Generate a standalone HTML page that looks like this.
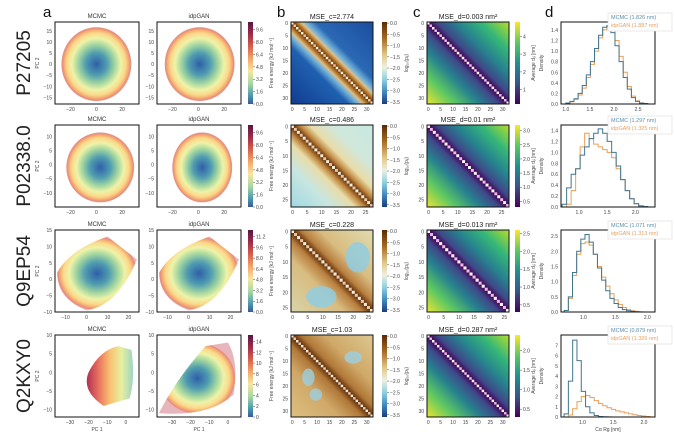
<!DOCTYPE html>
<html><head><meta charset="utf-8">
<style>
html,body{margin:0;padding:0;background:#fff;}
svg{display:block;font-family:"Liberation Sans",sans-serif;}
</style></head>
<body>
<svg id="fig" width="675" height="437" viewBox="0 0 675 437" xmlns="http://www.w3.org/2000/svg">
<defs>
<radialGradient id="spec" cx="0.5" cy="0.5" r="0.5">
<stop offset="0" stop-color="#2f5fa8"/><stop offset="0.3" stop-color="#4f9cb0"/><stop offset="0.52" stop-color="#9fd4a0"/><stop offset="0.7" stop-color="#eef3a8"/><stop offset="0.84" stop-color="#fbd88a"/><stop offset="0.93" stop-color="#f4a870"/><stop offset="0.98" stop-color="#e07060" stop-opacity="0.8"/><stop offset="1" stop-color="#c04858" stop-opacity="0.4"/>
</radialGradient>
<linearGradient id="specL" x1="1" y1="0" x2="0" y2="0">
<stop offset="0" stop-color="#9fd4c0"/><stop offset="0.25" stop-color="#e6f0a0"/><stop offset="0.5" stop-color="#f8c070"/><stop offset="0.75" stop-color="#e87060"/><stop offset="1" stop-color="#b03050"/>
</linearGradient>
<linearGradient id="cbA" x1="0" y1="0" x2="0" y2="1">
<stop offset="0" stop-color="#5a1448"/><stop offset="0.15" stop-color="#a02c48"/><stop offset="0.3" stop-color="#d8604a"/><stop offset="0.45" stop-color="#f4a868"/><stop offset="0.6" stop-color="#f6e6a0"/><stop offset="0.75" stop-color="#a8d8a0"/><stop offset="0.9" stop-color="#4a98b0"/><stop offset="1" stop-color="#3a5a98"/>
</linearGradient>
<linearGradient id="cbB" x1="0" y1="0" x2="0" y2="1">
<stop offset="0" stop-color="#5a2a05"/><stop offset="0.2" stop-color="#a86a20"/><stop offset="0.4" stop-color="#e0c888"/><stop offset="0.55" stop-color="#eef0e0"/><stop offset="0.7" stop-color="#90d0e0"/><stop offset="0.85" stop-color="#3f8cc0"/><stop offset="1" stop-color="#1a3c80"/>
</linearGradient>
<linearGradient id="cbC" x1="0" y1="1" x2="0" y2="0">
<stop offset="0" stop-color="#440154"/><stop offset="0.25" stop-color="#3b528b"/><stop offset="0.5" stop-color="#21908d"/><stop offset="0.75" stop-color="#5dc863"/><stop offset="1" stop-color="#fde725"/>
</linearGradient>
<linearGradient id="vir" x1="0.5" y1="0.5" x2="1" y2="0">
<stop offset="0" stop-color="#440154"/><stop offset="0.12" stop-color="#3e4a89"/><stop offset="0.35" stop-color="#26828e"/><stop offset="0.65" stop-color="#35b779"/><stop offset="1" stop-color="#b5de2b"/>
</linearGradient>
<linearGradient id="virL" x1="0.5" y1="0.5" x2="0" y2="1">
<stop offset="0" stop-color="#440154"/><stop offset="0.12" stop-color="#3e4a89"/><stop offset="0.35" stop-color="#26828e"/><stop offset="0.65" stop-color="#5dc863"/><stop offset="1" stop-color="#e8e430"/>
</linearGradient>
<linearGradient id="b1U" x1="0.5" y1="0.5" x2="1" y2="0"><stop offset="0" stop-color="#5a2805"/><stop offset="0.06" stop-color="#b07020"/><stop offset="0.12" stop-color="#d8c090"/><stop offset="0.18" stop-color="#70b0d8"/><stop offset="0.3" stop-color="#2a68b4"/><stop offset="1" stop-color="#1a4ea0"/></linearGradient>
<linearGradient id="b1L" x1="0.5" y1="0.5" x2="0" y2="1"><stop offset="0" stop-color="#5a2805"/><stop offset="0.06" stop-color="#b07020"/><stop offset="0.12" stop-color="#d8c090"/><stop offset="0.18" stop-color="#70b0d8"/><stop offset="0.3" stop-color="#2060b0"/><stop offset="1" stop-color="#103c90"/></linearGradient>
<linearGradient id="b2U" x1="0.5" y1="0.5" x2="1" y2="0"><stop offset="0" stop-color="#5a2805"/><stop offset="0.1" stop-color="#c08840"/><stop offset="0.22" stop-color="#e8dcaa"/><stop offset="0.5" stop-color="#d0e8dc"/><stop offset="1" stop-color="#c8e8e0"/></linearGradient>
<linearGradient id="b2L" x1="0.5" y1="0.5" x2="0" y2="1"><stop offset="0" stop-color="#5a2805"/><stop offset="0.1" stop-color="#c08840"/><stop offset="0.22" stop-color="#e8dcaa"/><stop offset="0.5" stop-color="#c8e6e0"/><stop offset="1" stop-color="#a0d8e4"/></linearGradient>
<linearGradient id="b3U" x1="0.5" y1="0.5" x2="1" y2="0"><stop offset="0" stop-color="#5a2805"/><stop offset="0.12" stop-color="#b88040"/><stop offset="0.35" stop-color="#d8bc80"/><stop offset="1" stop-color="#e0dcb0"/></linearGradient>
<linearGradient id="b3L" x1="0.5" y1="0.5" x2="0" y2="1"><stop offset="0" stop-color="#5a2805"/><stop offset="0.12" stop-color="#b88040"/><stop offset="0.35" stop-color="#d8bc80"/><stop offset="1" stop-color="#d8d4a8"/></linearGradient>
<linearGradient id="b4U" x1="0.5" y1="0.5" x2="1" y2="0"><stop offset="0" stop-color="#5a2805"/><stop offset="0.12" stop-color="#b07838"/><stop offset="0.4" stop-color="#d0a868"/><stop offset="1" stop-color="#dcc890"/></linearGradient>
<linearGradient id="b4L" x1="0.5" y1="0.5" x2="0" y2="1"><stop offset="0" stop-color="#5a2805"/><stop offset="0.12" stop-color="#b07838"/><stop offset="0.4" stop-color="#d0a868"/><stop offset="1" stop-color="#dcc080"/></linearGradient>
</defs>
</svg>
<script>
// ---- data ----
const proteins = ["P27205","P02338.0","Q9EP54","Q2KXY0"];
const mseC = ["2.774","0.486","0.228","1.03"];
const mseD = ["0.003","0.01","0.013","0.287"];
const nRes = [33,28,27,33];
const heatTicks = [[0,5,10,15,20,25,30],[0,5,10,15,20,25],[0,5,10,15,20,25],[0,5,10,15,20,25,30]];
const rgMCMC = ["1.826","1.297","1.071","0.879"];
const rgGAN = ["1.887","1.325","1.313","1.326"];
const cbATicks = [[0,1.6,3.2,4.8,6.4,8.0,9.6],[0,1.6,3.2,4.8,6.4,8.0,9.6],[0,1.6,3.2,4.8,6.4,8.0,9.6,11.2],[0,2,4,6,8,10,12,14]];
const cbAMax = [10.6,10.6,12.2,15.2];
const cbBTicks = [0,-0.5,-1.0,-1.5,-2.0,-2.5,-3.0,-3.5];
const cbCTicks = [[1,2,3,4],[0.5,1.0,1.5,2.0,2.5,3.0],[0.5,1.0,1.5,2.0,2.5],[0.5,1.0,1.5,2.0]];
const cbCRange = [[0.2,4.8],[0.3,3.2],[0.3,2.6],[0.3,2.4]];
const scXR = [[-32,33],[-32,33],[-15,25],[-38,7]];
const scYR = [[-18,19],[-15,14],[-10,15],[-12,10]];
const scXT = [[-20,0,20],[-20,0,20],[-10,0,10,20],[-30,-20,-10,0]];
const scYT = [[-15,-10,-5,0,5,10,15],[-10,-5,0,5,10],[-10,-5,0,5,10,15],[-10,-5,0,5,10]];
const hXR = [[0.9,2.85],[0.68,2.35],[0.65,2.12],[0.65,2.18]];
const hYR = [[0,1.55],[0,1.5],[0,2.7],[0,8]];
const hXT = [[1.0,1.5,2.0,2.5],[1.0,1.5,2.0],[1.0,1.5,2.0],[1.0,1.5,2.0]];
const hYT = [[0,0.2,0.4,0.6,0.8,1.0,1.2,1.4],[0,0.2,0.4,0.6,0.8,1.0,1.2,1.4],[0,0.5,1.0,1.5,2.0,2.5],[0,1,2,3,4,5,6,7]];
const binStart = [1.0,0.7,0.7,0.7];
const binW = [0.085,0.08,0.065,0.07];
const histMCMC = [
 [0.02,0.05,0.1,0.2,0.35,0.55,0.8,1.05,1.3,1.45,1.48,1.35,1.1,0.8,0.5,0.28,0.12,0.05,0.02,0.01],
 [0.05,0.35,0.6,0.7,0.95,1.1,1.25,1.35,1.43,1.35,1.2,1.0,0.75,0.5,0.3,0.15,0.06,0.02,0.01,0],
 [0.05,0.5,1.3,2.0,2.4,2.55,2.3,1.9,1.45,1.05,0.7,0.45,0.28,0.15,0.08,0.04,0.02,0.01,0,0],
 [0.3,3.5,7.5,5.5,2.5,1.0,0.4,0.15,0.05,0.02,0.01,0,0,0,0,0,0,0,0,0]];
const histGAN = [
 [0.02,0.04,0.09,0.17,0.3,0.5,0.75,1.0,1.25,1.4,1.47,1.4,1.2,0.9,0.6,0.33,0.15,0.06,0.02,0.01],
 [0,0.05,0.3,0.7,1.1,1.35,1.25,1.15,1.1,1.05,1.0,0.9,0.7,0.5,0.3,0.15,0.06,0.02,0.01,0],
 [0.05,0.45,1.2,1.9,2.25,2.3,2.2,1.9,1.5,1.15,0.85,0.6,0.4,0.25,0.15,0.08,0.04,0.02,0.01,0],
 [0,0.2,0.8,1.5,2.0,2.1,1.9,1.6,1.3,1.1,0.9,0.75,0.6,0.5,0.4,0.3,0.22,0.15,0.1,0.05]];

// ---- layout ----
const NS="http://www.w3.org/2000/svg";
const svg=document.getElementById('fig');
const rowTop=[22,125,230,335], H=82;
const C={s1:55,s2:157,cbA:248,hb:291,cbB:382,hc:427,cbC:515,hd:561};
function mk(tag,at,parent){const e=document.createElementNS(NS,tag);for(const k in at)e.setAttribute(k,at[k]);(parent||svg).appendChild(e);return e;}
function txt(x,y,s,size,anchor,fill,parent,rot){const t=mk('text',{x:x,y:y,'font-size':size,'text-anchor':anchor||'middle',fill:fill||'#333'},parent);if(rot)t.setAttribute('transform','rotate('+rot+' '+x+' '+y+')');t.textContent=s;return t;}
function fmt(v,d){return (v<0?'\u2212':'')+Math.abs(v).toFixed(d);}

[['a',43],['b',277],['c',413],['d',545]].forEach(p=>{const t=txt(p[1],17,p[0],15,'start','#111');

});

for(let r=0;r<4;r++){
 const y0=rowTop[r];
 const lab=txt(30,y0+H/2,proteins[r],19,'middle','#222',null,-90);
 
 

 ['MCMC','idpGAN'].forEach((nm,k)=>{
  const x0=k?C.s2:C.s1, w=84;
  const g=mk('g',{});
  
  
  const sx=v=>x0+(v-scXR[r][0])/(scXR[r][1]-scXR[r][0])*w;
  const sy=v=>y0+H-(v-scYR[r][0])/(scYR[r][1]-scYR[r][0])*H;
  let blob;
  if(r===0) blob=mk('ellipse',{cx:sx(k?1:0),cy:sy(0),rx:35,ry:37,fill:'url(#spec)'},g);
  else if(r===1) blob=mk('ellipse',{cx:sx(k?3:3),cy:sy(-1),rx:k?30:34,ry:35,fill:'url(#spec)'},g);
  else if(r===2) blob=mk('path',{d:'M'+sx(-14)+' '+sy(2)+' Q'+sx(-8)+' '+sy(9)+' '+sx(10)+' '+sy(13)+' L'+sx(24)+' '+sy(6)+' Q'+sx(15)+' '+sy(-8)+' '+sx(0)+' '+sy(-9.5)+' Q'+sx(-14)+' '+sy(-6)+' '+sx(-14)+' '+sy(2)+'Z',fill:'url(#spec)'},g);
  else if(k===0) blob=mk('path',{d:'M'+sx(-4)+' '+sy(7)+' L'+sx(3)+' '+sy(6)+' Q'+sx(5)+' '+sy(-2)+' '+sx(2)+' '+sy(-7)+' L'+sx(-12)+' '+sy(-9)+' Q'+sx(-24)+' '+sy(-5)+' '+sx(-20)+' '+sy(0)+' Q'+sx(-14)+' '+sy(6)+' '+sx(-4)+' '+sy(7)+'Z',fill:'url(#specL)'},g);
  else blob=mk('path',{d:'M'+sx(-37)+' '+sy(-11)+' Q'+sx(-28)+' '+sy(-2)+' '+sx(-12)+' '+sy(7)+' L'+sx(0)+' '+sy(8)+' Q'+sx(6)+' '+sy(3)+' '+sx(3)+' '+sy(-6)+' Q'+sx(-10)+' '+sy(-12)+' '+sx(-37)+' '+sy(-11)+'Z',fill:'url(#spec)'},g);
  
  
  const box=mk('rect',{x:x0,y:y0,width:w,height:H,fill:'none',stroke:'#111','stroke-width':1},g);
  
  
  const t=txt(x0+w/2,y0-4,nm,6,'middle','#333',g);
  
  
  scXT[r].forEach(v=>{const tt=txt(sx(v),y0+H+7,fmt(v,0),5,'middle','#444',g);
   
   });
  scYT[r].forEach(v=>{const tt=txt(x0-3,sy(v)+2,fmt(v,0),5,'end','#444',g);
   
   });
  if(k===0){const yl=txt(x0-16,y0+H/2,'PC 2',5,'middle','#444',g,-90);
   
   }
  if(r===3){const xl=txt(x0+w/2,y0+H+14,'PC 1',5,'middle','#444',g);
   
   }
 });

 function colorbar(x,grad,ticks,lo,hi,dec,label,nm,loff){
  const g=mk('g',{});
  
  
  const rr=mk('rect',{x:x,y:y0,width:5,height:H,fill:'url(#'+grad+')'},g);
  
  
  ticks.forEach(v=>{const yy=y0+H-(v-lo)/(hi-lo)*H;
   const ln=mk('line',{x1:x+5,x2:x+7,y1:yy,y2:yy,stroke:'#444','stroke-width':0.5},g);
   
   
   const tt=txt(x+8,yy+2,fmt(v,dec),5,'start','#444',g);
   
   });
  const lb=txt(x+loff,y0+H/2,label,5,'middle','#444',g,-90);
  
  
 }
 colorbar(C.cbA,'cbA',cbATicks[r],0,cbAMax[r],r===3?0:1,'Free energy [kJ mol\u207B\u00B9]','colorbar-free-energy',25);
 colorbar(C.cbB,'cbB',cbBTicks,-3.6,0.05,1,'log\u2081\u2080(p\u1D62\u2C7C)','colorbar-contact',26);
 colorbar(C.cbC,'cbC',cbCTicks[r],cbCRange[r][0],cbCRange[r][1],r===0?0:1,'Average d\u1D62\u2C7C [nm]','colorbar-distance',20);

 function heat(x0,gu,gl,title,nm,diagA,diagB,extra){
  const w=82,n=nRes[r],cs=w/n;
  const g=mk('g',{});
  
  
  const up=mk('polygon',{points:`${x0},${y0} ${x0+w},${y0} ${x0+w},${y0+H}`,fill:'url(#'+gu+')'},g);
  
  
  const lo=mk('polygon',{points:`${x0},${y0} ${x0},${y0+H} ${x0+w},${y0+H}`,fill:'url(#'+gl+')'},g);
  
  
  if(extra)extra(g,x0,cs);
  for(let i=0;i<n;i++){const d=mk('rect',{x:x0+i*cs,y:y0+i*H/n,width:cs,height:H/n,fill:i%2?diagB:diagA},g);
   
   }
  const fr=mk('rect',{x:x0,y:y0,width:w,height:H,fill:'none',stroke:'#111','stroke-width':1},g);
  
  
  const tt=txt(x0+w/2,y0-3,title,7,'middle','#222',g);
  
  
  heatTicks[r].forEach(v=>{
   const a=txt(x0+(v+0.5)*cs,y0+H+7,String(v),5,'middle','#444',g);
   
   
   const b=txt(x0-3,y0+(v+0.5)*H/n+2,String(v),5,'end','#444',g);
   
   });
 }
 const blobs=[null,null,
  (g,x0,cs)=>{[[22,9,4,5],[10,22,5,3.5]].forEach(b=>{const e=mk('ellipse',{cx:x0+b[0]*cs,cy:y0+b[1]*cs*H/82,rx:b[2]*cs,ry:b[3]*cs,fill:'#90cce0',opacity:0.85},g);
   
   });},
  (g,x0,cs)=>{[[25,9,3.5,2.5],[7,17,2.5,3.5],[10,24,2.5,2.5]].forEach(b=>{const e=mk('ellipse',{cx:x0+b[0]*cs,cy:y0+b[1]*cs,rx:b[2]*cs,ry:b[3]*cs,fill:'#9cd0e0',opacity:0.8},g);
   
   });}];
 heat(C.hb,'b'+(r+1)+'U','b'+(r+1)+'L','MSE_c='+mseC[r],'contact-map-row'+(r+1),'#fbeee0','#e8c8a8',blobs[r]);
 heat(C.hc,'vir','virL','MSE_d='+mseD[r]+' nm\u00B2','distance-map-row'+(r+1),'#ffffff','#f0b8e8',null);

 const hx0=C.hd,hw=94;
 const g=mk('g',{});
 
 
 const X=v=>hx0+(v-hXR[r][0])/(hXR[r][1]-hXR[r][0])*hw;
 const Y=v=>y0+H-(v-hYR[r][0])/(hYR[r][1]-hYR[r][0])*H;
 [[histGAN[r],'#e8a05a','idpgan'],[histMCMC[r],'#3f7590','mcmc']].forEach(s=>{
  let d='M'+X(binStart[r])+' '+Y(0);
  s[0].forEach((v,i)=>{const a=binStart[r]+i*binW[r];d+=' L'+X(a)+' '+Y(v)+' L'+X(a+binW[r])+' '+Y(v);});
  d+=' L'+X(binStart[r]+s[0].length*binW[r])+' '+Y(0);
  const p=mk('path',{d:d,fill:'none',stroke:s[1],'stroke-width':1},g);
  
  
 });
 const fr=mk('rect',{x:hx0,y:y0,width:hw,height:H,fill:'none',stroke:'#111','stroke-width':1},g);
 
 
 hXT[r].forEach(v=>{const t=txt(X(v),y0+H+7,v.toFixed(1),5,'middle','#444',g);
  
  });
 hYT[r].forEach(v=>{const t=txt(hx0-3,Y(v)+2,r===3?String(v):v.toFixed(1),5,'end','#444',g);
  
  });
 const yl=txt(hx0-18,y0+H/2,'Density',5,'middle','#444',g,-90);
 
 
 if(r===3){const xl=txt(hx0+hw/2,y0+H+14,'C\u03B1 R\u0261 [nm]',5,'middle','#444',g);
  
  }
 const lg=mk('g',{},g);
 
 
 const lb=mk('rect',{x:608,y:y0-9,width:64,height:18,fill:'#fff',stroke:'#ddd','stroke-width':0.6},lg);
 
 
 const l1=txt(611,y0-3,'MCMC ('+rgMCMC[r]+' nm)',5.5,'start','#5a8eb0',lg);
 
 
 const l2=txt(611,y0+5,'idpGAN ('+rgGAN[r]+' nm)',5.5,'start','#e8a060',lg);
 
 
}
</script>
</body></html>
